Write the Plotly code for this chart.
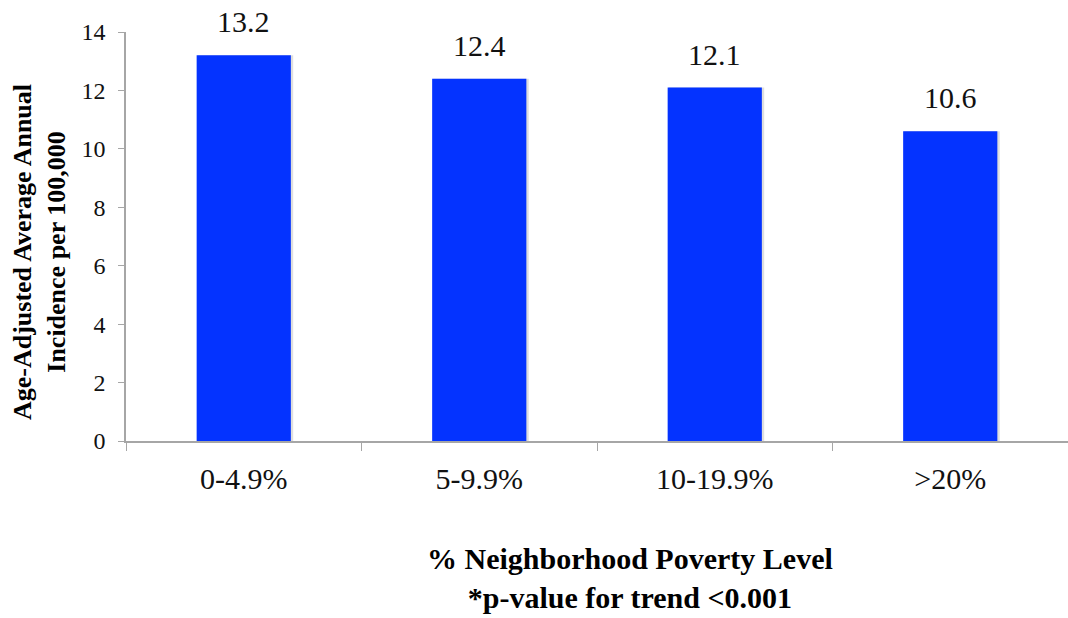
import plotly.graph_objects as go

categories = ["0-4.9%", "5-9.9%", "10-19.9%", ">20%"]
incidence = [13.2, 12.4, 12.1, 10.6]
y_ticks = [0, 2, 4, 6, 8, 10, 12, 14]

BAR_BLUE = "#0433FF"
AXIS_GREY = "#A6A6A6"
SERIF = "Liberation Serif, Times New Roman, serif"

fig = go.Figure()

# soft drop shadow behind each bar
fig.add_trace(go.Bar(
    x=categories, y=incidence,
    width=0.405, offset=-0.195,
    marker=dict(color="rgba(0,0,0,0.13)", line=dict(width=0)),
    hoverinfo="skip", showlegend=False,
))
fig.add_trace(go.Bar(
    x=categories, y=incidence,
    width=0.40, offset=-0.20,
    marker=dict(color=BAR_BLUE, line=dict(width=0)),
    showlegend=False,
))

# value labels above the bars
for c, v in zip(categories, incidence):
    fig.add_annotation(
        x=c, y=v, text=f"{v:.1f}", showarrow=False,
        yanchor="bottom", yshift=15,
        font=dict(family=SERIF, size=30, color="#111"),
    )

# y-axis title (two lines, bold, rotated)
fig.add_annotation(
    xref="paper", yref="paper", x=0, y=0.462,
    xshift=-87, text="<b>Age-Adjusted Average Annual<br>Incidence per 100,000</b>",
    textangle=-90, showarrow=False, xanchor="center", yanchor="middle",
    font=dict(family=SERIF, size=26, color="#000"),
)
# x-axis title (two lines, bold)
fig.add_annotation(
    xref="paper", yref="paper", x=0.535, y=0,
    yshift=-137, text="<b>% Neighborhood Poverty Level<br>*p-value for trend &lt;0.001</b>",
    showarrow=False, xanchor="center", yanchor="middle",
    font=dict(family=SERIF, size=30, color="#000"),
)

fig.update_layout(
    width=1068, height=618,
    margin=dict(l=126, r=0, t=32, b=177),
    paper_bgcolor="white", plot_bgcolor="white",
    bargap=0.6,
    font=dict(family=SERIF, color="#111"),
)
fig.update_xaxes(
    type="category",
    range=[-0.5, 3.5],
    showline=True, linecolor=AXIS_GREY, linewidth=1.5,
    ticks="outside", tickson="boundaries", ticklen=8, tickcolor=AXIS_GREY,
    tickfont=dict(family=SERIF, size=30, color="#111"),
    ticklabelstandoff=10,
    showgrid=False, zeroline=False,
)
fig.update_yaxes(
    range=[0, 14],
    tickvals=y_ticks, ticktext=[str(t) for t in y_ticks],
    showline=True, linecolor=AXIS_GREY, linewidth=1.5,
    ticks="outside", ticklen=6, tickcolor=AXIS_GREY,
    tickfont=dict(family=SERIF, size=24, color="#111"),
    ticklabelstandoff=8,
    showgrid=False, zeroline=False,
)

fig.write_html("out.html")
